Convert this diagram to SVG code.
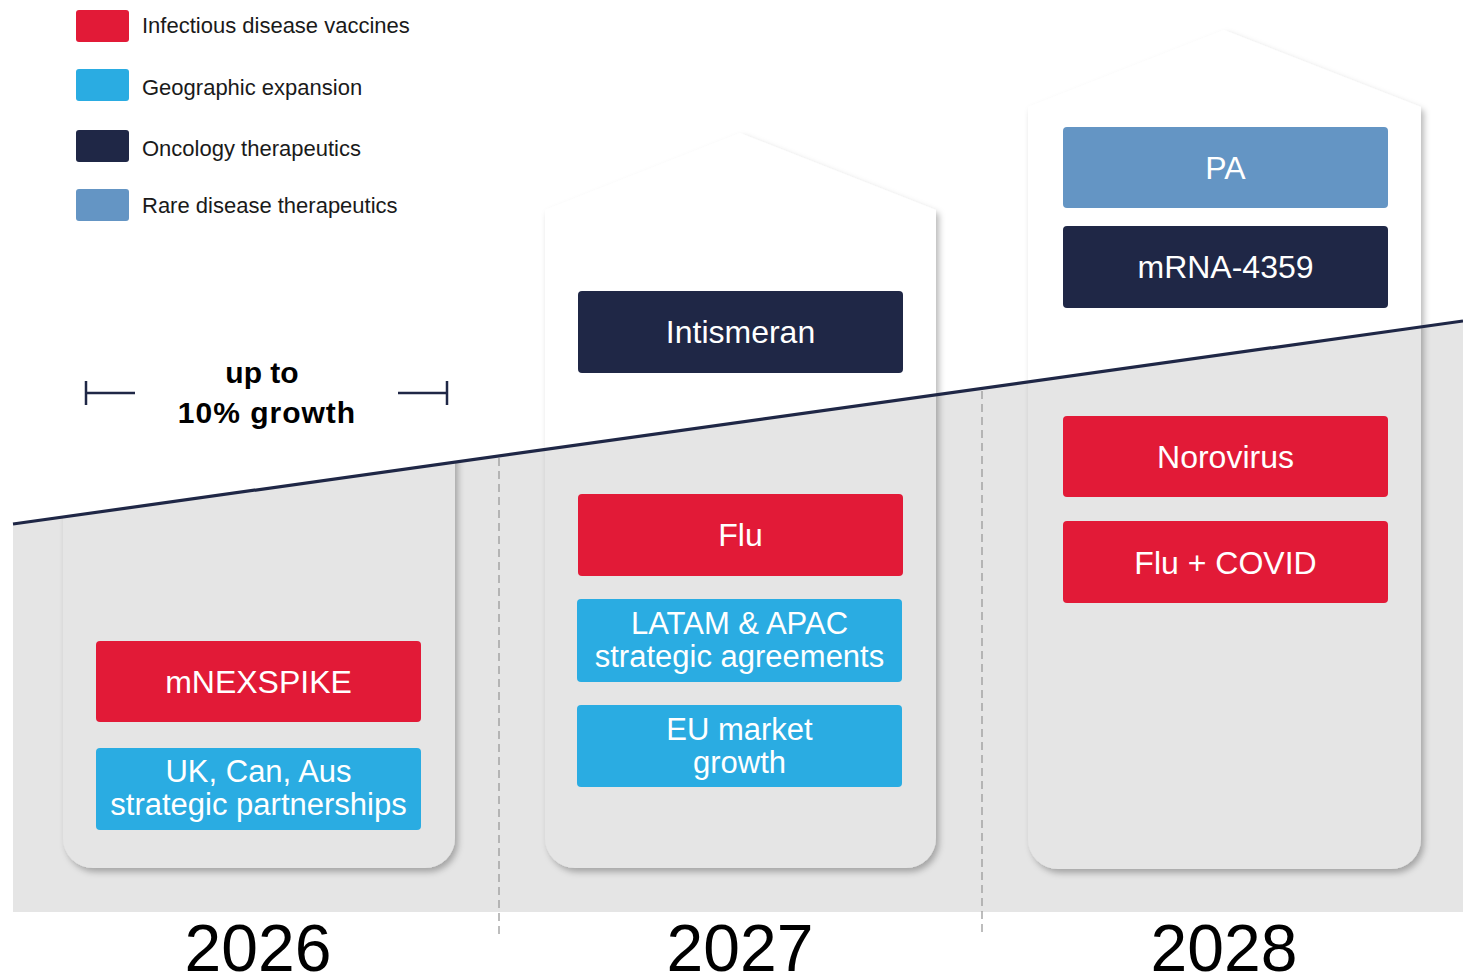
<svg xmlns="http://www.w3.org/2000/svg" width="1463" height="974" viewBox="0 0 1463 974">
  <style>
    .legend { font-family: "Liberation Sans", Arial, sans-serif; font-size: 22px; fill: #1a1a1a; }
    .box-label { font-family: "Liberation Sans", Arial, sans-serif; font-size: 32px; fill: #ffffff; text-anchor: middle; }
    .box-label.two { font-size: 31px; }
    .year { font-family: "Liberation Sans", Arial, sans-serif; font-size: 66px; fill: #000000; text-anchor: middle; }
    .growth { font-family: "Liberation Sans", Arial, sans-serif; font-size: 30px; font-weight: bold; fill: #000000; text-anchor: middle; }
    .house { fill: #ffffff; filter: url(#shadow); }
    .infectious { fill: #e21a37; }
    .geo { fill: #2aace2; }
    .onco { fill: #1f2746; }
    .rare { fill: #6495c4; }
    .divider { stroke: #9a9a9a; stroke-width: 1.3; stroke-dasharray: 8 5; fill: none; }
    .bracket { stroke: #1f2746; stroke-width: 2.5; fill: none; }
  </style>
  <defs>
    <filter id="shadow" x="-10%" y="-10%" width="120%" height="120%">
      <feDropShadow dx="3" dy="4" stdDeviation="3" flood-color="#000000" flood-opacity="0.28"/>
    </filter>
    <clipPath id="below-line">
      <polygon points="13,524 1463,321 1463,912 13,912"/>
    </clipPath>
  </defs>

  <rect width="1463" height="974" fill="#ffffff"/>

  <!-- legend -->
  <g id="legend">
    <rect class="infectious" x="76" y="10" width="53" height="32" rx="3"/>
    <text class="legend" x="142" y="33">Infectious disease vaccines</text>
    <rect class="geo" x="76" y="69" width="53" height="32" rx="3"/>
    <text class="legend" x="142" y="95">Geographic expansion</text>
    <rect class="onco" x="76" y="130" width="53" height="32" rx="3"/>
    <text class="legend" x="142" y="156">Oncology therapeutics</text>
    <rect class="rare" x="76" y="189" width="53" height="32" rx="3"/>
    <text class="legend" x="142" y="213">Rare disease therapeutics</text>
  </g>

  <!-- house outlines -->
  <g id="house-2026">
    <path class="house" clip-path="url(#below-line)" d="M63,420 L455,420 L455,838 A30,30 0 0 1 425,868 L93,868 A30,30 0 0 1 63,838 Z"/>
  </g>
  <g id="house-2027">
    <path class="house" d="M545,210 L740,133 L936,210 L936,838 A30,30 0 0 1 906,868 L575,868 A30,30 0 0 1 545,838 Z"/>
  </g>
  <g id="house-2028">
    <path class="house" d="M1028,107 L1224,30 L1421,107 L1421,839 A30,30 0 0 1 1391,869 L1058,869 A30,30 0 0 1 1028,839 Z"/>
  </g>

  <!-- shaded area under the growth line -->
  <polygon points="13,524 1463,321 1463,912 13,912" fill="#000000" fill-opacity="0.1"/>

  <!-- connectors: year dividers and growth line -->
  <g id="connectors">
    <line class="divider" x1="499" y1="458" x2="499" y2="936"/>
    <line class="divider" x1="982" y1="391" x2="982" y2="936"/>
    <line x1="13" y1="524" x2="1463" y2="321" stroke="#1f2746" stroke-width="3.2"/>
    <polyline class="bracket" points="86,381 86,405"/>
    <line class="bracket" x1="86" y1="393" x2="135" y2="393"/>
    <line class="bracket" x1="398" y1="393" x2="447" y2="393"/>
    <polyline class="bracket" points="447,381 447,405"/>
  </g>

  <g id="growth-label">
    <text class="growth" x="262" y="383">up to</text>
    <text class="growth" x="267" y="423" letter-spacing="1">10% growth</text>
  </g>

  <!-- 2026 items -->
  <g id="mnexspike">
    <rect class="infectious" x="96" y="641" width="325" height="81" rx="4"/>
    <text class="box-label" x="258.5" y="693">mNEXSPIKE</text>
  </g>
  <g id="uk-can-aus">
    <rect class="geo" x="96" y="748" width="325" height="82" rx="4"/>
    <text class="box-label two" x="258.5" y="782">UK, Can, Aus</text>
    <text class="box-label two" x="258.5" y="815">strategic partnerships</text>
  </g>

  <!-- 2027 items -->
  <g id="intismeran">
    <rect class="onco" x="578" y="291" width="325" height="82" rx="4"/>
    <text class="box-label" x="740.5" y="343">Intismeran</text>
  </g>
  <g id="flu">
    <rect class="infectious" x="578" y="494" width="325" height="82" rx="4"/>
    <text class="box-label" x="740.5" y="546">Flu</text>
  </g>
  <g id="latam-apac">
    <rect class="geo" x="577" y="599" width="325" height="83" rx="4"/>
    <text class="box-label two" x="739.5" y="634">LATAM &amp; APAC</text>
    <text class="box-label two" x="739.5" y="667">strategic agreements</text>
  </g>
  <g id="eu-market">
    <rect class="geo" x="577" y="705" width="325" height="82" rx="4"/>
    <text class="box-label two" x="739.5" y="740">EU market</text>
    <text class="box-label two" x="739.5" y="773">growth</text>
  </g>

  <!-- 2028 items -->
  <g id="pa">
    <rect class="rare" x="1063" y="127" width="325" height="81" rx="4"/>
    <text class="box-label" x="1225.5" y="179">PA</text>
  </g>
  <g id="mrna-4359">
    <rect class="onco" x="1063" y="226" width="325" height="82" rx="4"/>
    <text class="box-label" x="1225.5" y="278">mRNA-4359</text>
  </g>
  <g id="norovirus">
    <rect class="infectious" x="1063" y="416" width="325" height="81" rx="4"/>
    <text class="box-label" x="1225.5" y="468">Norovirus</text>
  </g>
  <g id="flu-covid">
    <rect class="infectious" x="1063" y="521" width="325" height="82" rx="4"/>
    <text class="box-label" x="1225.5" y="574">Flu + COVID</text>
  </g>

  <!-- year labels -->
  <g id="years">
    <text class="year" x="258" y="971">2026</text>
    <text class="year" x="740" y="971">2027</text>
    <text class="year" x="1224" y="971">2028</text>
  </g>
</svg>
